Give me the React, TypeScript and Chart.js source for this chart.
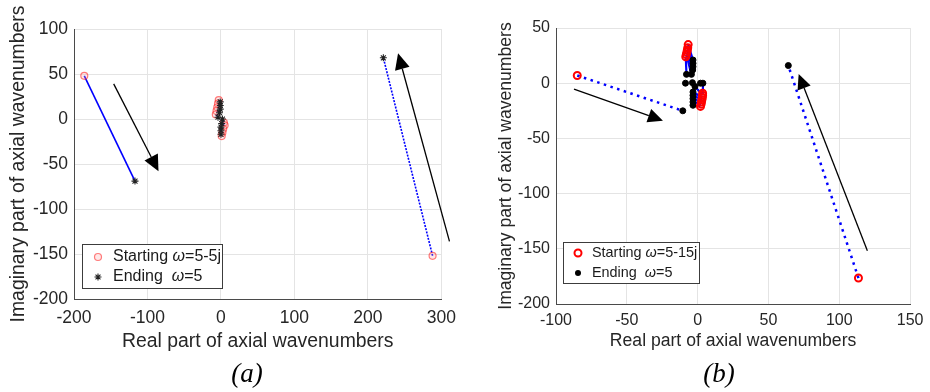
import React, { useEffect, useRef } from "react";
import { Chart, registerables } from "chart.js";

Chart.register(...registerables);

// ---------------- Panel (a) data ----------------
const aStartRe = [-186, 288, -3, -4, -5, -6, -7, 4, 5, 3, 2, 1];
const aStartIm = [48, -152, 21, 17, 13, 9, 5, -4, -7, -11, -15, -19];
const aEndRe = [-117, 221, -1, -1, -1, -2, -4, 2, 1, 0, 0, 0];
const aEndIm = [-69, 68, 19, 15, 11, 7, 2, 0, -5, -9, -13, -17];
const aArrowFromRe = [-146, 311];
const aArrowFromIm = [39, -136];
const aArrowToRe = [-85, 241];
const aArrowToIm = [-58, 73];
const aXTicks = [-200, -100, 0, 100, 200, 300];
const aYTicks = [-200, -150, -100, -50, 0, 50, 100];
const aLegendLabels = ["Starting ω=5-5j", "Ending  ω=5"];

// ---------------- Panel (b) data ----------------
const bStartRe = [-85, 113.5, -6.7, -7, -7.3, -7.6, -8, -8.4, 3.5, 3.5, 3.3, 3, 2.7, 2.4, 2];
const bStartIm = [7, -176.5, 35, 32, 30, 28, 26, 24, -9, -11, -13, -15, -17, -19, -21];
const bEndRe = [-10.5, 64, -3.3, -3.3, -3.3, -3.5, -4.4, -7.9, 3.7, -1.9, -3.3, -3.3, -3.3, -3.3, -3.3];
const bEndIm = [-25, 16, 21, 18, 15, 12, 8, 8, 0, -3, -8, -11, -14, -17, -20];
const bExtraEndRe = [-8.6, -3.7, 2];
const bExtraEndIm = [0, 0.5, 0];
const bArrowFromRe = [-87.3, 119.8];
const bArrowFromIm = [-5.3, -151.7];
const bArrowToRe = [-24.5, 71.3];
const bArrowToIm = [-34, 8.3];
const bXTicks = [-100, -50, 0, 50, 100, 150];
const bYTicks = [-200, -150, -100, -50, 0, 50];
const bLegendLabels = ["Starting ω=5-15j", "Ending  ω=5"];

const FONT = "'Liberation Sans', Arial, Helvetica, sans-serif";

type Panel = {
  startRe: number[];
  startIm: number[];
  endRe: number[];
  endIm: number[];
  extraEndRe: number[];
  extraEndIm: number[];
  arrowFromRe: number[];
  arrowFromIm: number[];
  arrowToRe: number[];
  arrowToIm: number[];
  xTicks: number[];
  yTicks: number[];
  legendLabels: string[];
  st: any;
};

function buildChart(canvas: HTMLCanvasElement, p: Panel) {
  const st = p.st;
  const datasets: any[] = [];
  for (let i = 0; i < p.startRe.length; i++) {
    const major = i < 2;
    datasets.push({
      data: [
        { x: p.startRe[i], y: p.startIm[i] },
        { x: p.endRe[i], y: p.endIm[i] },
      ],
      showLine: true,
      borderColor: "#0000ff",
      borderWidth: major ? st.majorWidth : st.minorWidth,
      borderDash: major ? st.dash[i] : [],
      borderCapStyle: "butt",
      pointRadius: 0,
      fill: false,
      order: 3,
    });
  }
  const ends = p.endRe.map((v, i) => ({ x: v, y: p.endIm[i] }));
  p.extraEndRe.forEach((v, i) => ends.push({ x: v, y: p.extraEndIm[i] }));
  datasets.push({
    data: ends,
    showLine: false,
    pointStyle: st.endStyle,
    pointRadius: st.endRadius,
    pointBorderWidth: st.endBorder,
    pointBorderColor: st.endColor,
    pointBackgroundColor: st.endColor,
    order: st.endsOnTop ? 1 : 2,
  });
  datasets.push({
    data: p.startRe.map((v, i) => ({ x: v, y: p.startIm[i] })),
    showLine: false,
    pointStyle: "circle",
    pointRadius: st.startRadius,
    pointBorderWidth: st.startBorder,
    pointBorderColor: st.startColor,
    pointBackgroundColor: st.startFill,
    order: st.endsOnTop ? 2 : 1,
  });

  const overlay = {
    id: "overlay",
    afterDraw(chart: any) {
      const ctx = chart.ctx as CanvasRenderingContext2D;
      const xs = chart.scales.x;
      const ys = chart.scales.y;
      ctx.save();
      // arrows
      for (let i = 0; i < p.arrowFromRe.length; i++) {
        const x0 = xs.getPixelForValue(p.arrowFromRe[i]);
        const y0 = ys.getPixelForValue(p.arrowFromIm[i]);
        const x1 = xs.getPixelForValue(p.arrowToRe[i]);
        const y1 = ys.getPixelForValue(p.arrowToIm[i]);
        const ang = Math.atan2(y1 - y0, x1 - x0);
        const L = st.headLen;
        const W = st.headHalf;
        const bx = x1 - L * Math.cos(ang);
        const by = y1 - L * Math.sin(ang);
        ctx.strokeStyle = "#000";
        ctx.lineWidth = 1.3;
        ctx.beginPath();
        ctx.moveTo(x0, y0);
        ctx.lineTo(bx, by);
        ctx.stroke();
        ctx.fillStyle = "#000";
        ctx.beginPath();
        ctx.moveTo(x1, y1);
        ctx.lineTo(bx + W * Math.sin(ang), by - W * Math.cos(ang));
        ctx.lineTo(bx - W * Math.sin(ang), by + W * Math.cos(ang));
        ctx.closePath();
        ctx.fill();
      }
      // legend
      const ca = chart.chartArea;
      const lx = ca.left + st.legDx;
      const ly = ca.bottom - st.legDy - st.legH;
      ctx.fillStyle = "#fff";
      ctx.fillRect(lx, ly, st.legW, st.legH);
      ctx.strokeStyle = "#3c3c3c";
      ctx.lineWidth = 1;
      ctx.strokeRect(lx + 0.5, ly + 0.5, st.legW, st.legH);
      const rows = [ly + st.legRow1, ly + st.legRow2];
      // markers
      const mx = lx + st.legMarkX;
      ctx.beginPath();
      ctx.arc(mx, rows[0], st.startRadius, 0, Math.PI * 2);
      ctx.fillStyle = st.startFill;
      ctx.fill();
      ctx.strokeStyle = st.startColor;
      ctx.lineWidth = st.startBorder;
      ctx.stroke();
      if (st.endStyle === "star") {
        const r = st.endRadius;
        ctx.strokeStyle = st.endColor;
        ctx.lineWidth = st.endBorder;
        ctx.beginPath();
        for (let k = 0; k < 4; k++) {
          const a = (k * Math.PI) / 4;
          ctx.moveTo(mx - r * Math.cos(a), rows[1] - r * Math.sin(a));
          ctx.lineTo(mx + r * Math.cos(a), rows[1] + r * Math.sin(a));
        }
        ctx.stroke();
      } else {
        ctx.beginPath();
        ctx.arc(mx, rows[1], st.endRadius, 0, Math.PI * 2);
        ctx.fillStyle = st.endColor;
        ctx.fill();
      }
      // texts
      ctx.textBaseline = "middle";
      ctx.textAlign = "left";
      ctx.fillStyle = "#1a1a1a";
      p.legendLabels.forEach((lab, i) => {
        const parts = lab.split("ω");
        let tx = lx + st.legTextX;
        ctx.font = `${st.legSize}px ${FONT}`;
        ctx.fillText(parts[0], tx, rows[i]);
        tx += ctx.measureText(parts[0]).width;
        ctx.font = `italic ${st.legSize}px ${FONT}`;
        ctx.fillText("ω", tx, rows[i]);
        tx += ctx.measureText("ω").width;
        ctx.font = `${st.legSize}px ${FONT}`;
        ctx.fillText(parts[1] || "", tx, rows[i]);
      });
      ctx.restore();
    },
  };

  return new Chart(canvas, {
    type: "scatter",
    data: { datasets },
    plugins: [overlay],
    options: {
      responsive: false,
      animation: false,
      devicePixelRatio: 1,
      events: [],
      layout: { padding: { top: st.padTop, right: st.padRight, left: 0, bottom: 0 } },
      plugins: { legend: { display: false }, tooltip: { enabled: false } },
      scales: {
        x: {
          type: "linear",
          min: p.xTicks[0],
          max: p.xTicks[p.xTicks.length - 1],
          afterBuildTicks: (s: any) => {
            s.ticks = p.xTicks.map((v) => ({ value: v }));
          },
          afterFit: (s: any) => {
            s.height = st.xAxisH;
          },
          grid: { color: "#e4e4e4", lineWidth: 1, drawTicks: false },
          border: { color: "#4a4a4a", width: 1 },
          ticks: {
            color: "#262626",
            font: { family: FONT, size: st.tickSize },
            padding: st.xTickPad,
            maxRotation: 0,
            autoSkip: false,
          },
          title: {
            display: true,
            text: "Real part of axial wavenumbers",
            color: "#262626",
            font: { family: FONT, size: st.titleSize },
            padding: { top: 0, bottom: st.xTitlePad },
          },
        },
        y: {
          type: "linear",
          min: p.yTicks[0],
          max: p.yTicks[p.yTicks.length - 1],
          afterBuildTicks: (s: any) => {
            s.ticks = p.yTicks.map((v) => ({ value: v }));
          },
          afterFit: (s: any) => {
            s.width = st.yAxisW;
          },
          grid: { color: "#e4e4e4", lineWidth: 1, drawTicks: false },
          border: { color: "#4a4a4a", width: 1 },
          ticks: {
            color: "#262626",
            font: { family: FONT, size: st.tickSize },
            padding: st.yTickPad,
            autoSkip: false,
          },
          title: {
            display: true,
            text: "Imaginary part of axial wavenumbers",
            color: "#262626",
            font: { family: FONT, size: st.titleSize },
            padding: { top: st.yTitlePad, bottom: 0 },
          },
        },
      },
    },
  } as any);
}

const styleA = {
  majorWidth: 1.6,
  minorWidth: 1.2,
  dash: [[], [2, 1.3]],
  endStyle: "star",
  endRadius: 3.5,
  endBorder: 1.1,
  endColor: "#222222",
  endsOnTop: true,
  startRadius: 3.5,
  startBorder: 1.2,
  startColor: "rgba(255,40,40,0.6)",
  startFill: "rgba(255,160,160,0.25)",
  headLen: 16,
  headHalf: 7.5,
  legDx: 8,
  legDy: 11,
  legW: 140,
  legH: 44,
  legRow1: 13,
  legRow2: 33,
  legMarkX: 16,
  legTextX: 31,
  legSize: 16,
  padTop: 29,
  padRight: 18,
  xAxisH: 93,
  yAxisW: 74,
  tickSize: 17.5,
  titleSize: 19.4,
  xTickPad: 9,
  yTickPad: 6,
  xTitlePad: 39,
  yTitlePad: 7.5,
};

const styleB = {
  majorWidth: 2.5,
  minorWidth: 2.2,
  dash: [[2.5, 4.5], [2.5, 4.5]],
  endStyle: "circle",
  endRadius: 3,
  endBorder: 1,
  endColor: "#000000",
  endsOnTop: false,
  startRadius: 3.5,
  startBorder: 2,
  startColor: "#ff0000",
  startFill: "rgba(255,255,255,0)",
  headLen: 15,
  headHalf: 7,
  legDx: 7,
  legDy: 21,
  legW: 136,
  legH: 41,
  legRow1: 11,
  legRow2: 31,
  legMarkX: 15,
  legTextX: 29,
  legSize: 14.4,
  padTop: 28,
  padRight: 13,
  xAxisH: 88,
  yAxisW: 91,
  tickSize: 16,
  titleSize: 17.6,
  xTickPad: 6.5,
  yTickPad: 6,
  xTitlePad: 40,
  yTitlePad: 31,
};

const panelA: Panel = {
  startRe: aStartRe,
  startIm: aStartIm,
  endRe: aEndRe,
  endIm: aEndIm,
  extraEndRe: [],
  extraEndIm: [],
  arrowFromRe: aArrowFromRe,
  arrowFromIm: aArrowFromIm,
  arrowToRe: aArrowToRe,
  arrowToIm: aArrowToIm,
  xTicks: aXTicks,
  yTicks: aYTicks,
  legendLabels: aLegendLabels,
  st: styleA,
};

const panelB: Panel = {
  startRe: bStartRe,
  startIm: bStartIm,
  endRe: bEndRe,
  endIm: bEndIm,
  extraEndRe: bExtraEndRe,
  extraEndIm: bExtraEndIm,
  arrowFromRe: bArrowFromRe,
  arrowFromIm: bArrowFromIm,
  arrowToRe: bArrowToRe,
  arrowToIm: bArrowToIm,
  xTicks: bXTicks,
  yTicks: bYTicks,
  legendLabels: bLegendLabels,
  st: styleB,
};

function ChartPanel({ panel, left, caption, captionX }: { panel: Panel; left: number; caption: string; captionX: number }) {
  const ref = useRef<HTMLCanvasElement | null>(null);
  useEffect(() => {
    if (!ref.current) return;
    const c = buildChart(ref.current, panel);
    return () => c.destroy();
  }, [panel]);
  return (
    <>
      <canvas
        ref={ref}
        width={465}
        height={392}
        style={{ position: "absolute", left, top: 0, width: 465, height: 392 }}
      />
      <div
        style={{
          position: "absolute",
          left: captionX - 40,
          width: 80,
          top: 360,
          textAlign: "center",
          fontFamily: "'Liberation Serif', 'Times New Roman', serif",
          fontStyle: "italic",
          fontSize: 27,
          lineHeight: "27px",
          color: "#000",
        }}
      >
        {caption}
      </div>
    </>
  );
}

export default function App() {
  return (
    <div style={{ position: "absolute", left: 0, top: 0, width: 930, height: 392, background: "#fff", overflow: "hidden" }}>
      <ChartPanel panel={panelA} left={0} caption="(a)" captionX={247} />
      <ChartPanel panel={panelB} left={465} caption="(b)" captionX={719} />
    </div>
  );
}
